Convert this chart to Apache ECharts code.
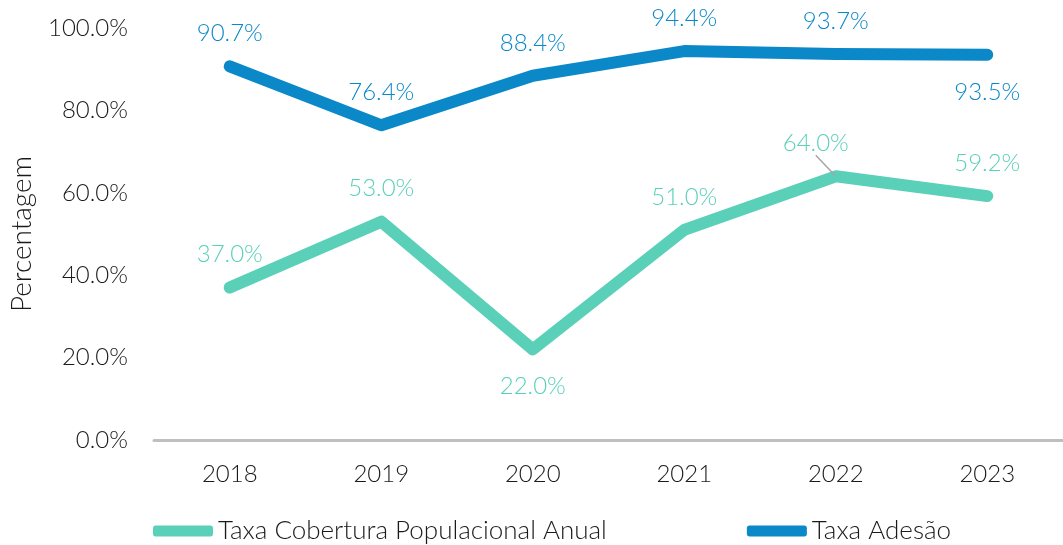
<!DOCTYPE html>
<html>
<head>
<meta charset="utf-8">
<script src="https://cdn.jsdelivr.net/npm/echarts@6/dist/echarts.min.js"></script>
<style>html,body{margin:0;padding:0;background:#fff;}#c{width:1063px;height:545px;}</style>
</head>
<body>
<div id="c"></div>
<script>
const categories = ['2018', '2019', '2020', '2021', '2022', '2023'];
const cobertura = [37.0, 53.0, 22.0, 51.0, 64.0, 59.2];
const adesao = [90.7, 76.4, 88.4, 94.4, 93.7, 93.5];
const seriesNames = ['Taxa Cobertura Populacional Anual', 'Taxa Adesão'];
const yTicks = { min: 0, max: 100, interval: 20 };

const FONT = 'Lato';
const GREEN = '#5AD0B8';
const BLUE = '#0A88C8';
const TXT = '#1a1a1a';

function labeled(values, belowIdx, leaderIdx) {
  return values.map((v, i) => {
    if (belowIdx.includes(i)) return { value: v, label: { position: 'bottom', distance: 24 } };
    if (leaderIdx.includes(i)) return { value: v, labelLine: { show: true, lineStyle: { color: '#A6A6A6', width: 1.5 } } };
    return v;
  });
}

const chart = echarts.init(document.getElementById('c'));
chart.setOption({
  animation: false,
  textStyle: { fontFamily: FONT },
  grid: { left: 154, right: -5, top: 28, bottom: 105 },
  legend: {
    bottom: -4,
    left: 148,
    itemWidth: 60,
    itemHeight: 11,
    itemGap: 140,
    icon: 'roundRect',
    textStyle: { fontFamily: FONT, fontSize: 26, color: TXT, fontWeight: 300 },
    data: seriesNames
  },
  xAxis: {
    type: 'category',
    data: categories,
    boundaryGap: true,
    axisLine: { lineStyle: { color: '#BFBFBF', width: 3 } },
    axisTick: { show: false },
    axisLabel: { fontFamily: FONT, fontSize: 24, color: TXT, margin: 22, fontWeight: 300 }
  },
  yAxis: {
    type: 'value',
    min: yTicks.min, max: yTicks.max, interval: yTicks.interval,
    name: 'Percentagem',
    nameLocation: 'middle',
    nameGap: 118,
    nameTextStyle: { fontFamily: FONT, fontSize: 28, color: TXT, fontWeight: 300 },
    axisLine: { show: false },
    axisTick: { show: false },
    splitLine: { show: false },
    axisLabel: {
      fontFamily: FONT, fontSize: 24, color: TXT, margin: 26, fontWeight: 300,
      formatter: v => v.toFixed(1) + '%'
    }
  },
  series: [
    {
      name: seriesNames[0],
      type: 'line',
      data: labeled(cobertura, [2], [4]),
      color: GREEN,
      symbol: 'circle',
      symbolSize: 2,
      showSymbol: true,
      lineStyle: { width: 12, cap: 'round', join: 'round' },
      label: {
        show: true, position: 'top', distance: 20,
        fontFamily: FONT, fontSize: 24, color: GREEN, fontWeight: 300,
        formatter: p => p.value.toFixed(1) + '%'
      },
      labelLine: { show: false },
      labelLayout: p => p.dataIndex === 4 ? { dx: -20, dy: 0 } : {}
    },
    {
      name: seriesNames[1],
      type: 'line',
      data: labeled(adesao, [5], []),
      color: BLUE,
      symbol: 'circle',
      symbolSize: 2,
      showSymbol: true,
      lineStyle: { width: 12, cap: 'round', join: 'round' },
      label: {
        show: true, position: 'top', distance: 20,
        fontFamily: FONT, fontSize: 24, color: BLUE, fontWeight: 300,
        formatter: p => p.value.toFixed(1) + '%'
      }
    }
  ]
});
</script>
</body>
</html>
